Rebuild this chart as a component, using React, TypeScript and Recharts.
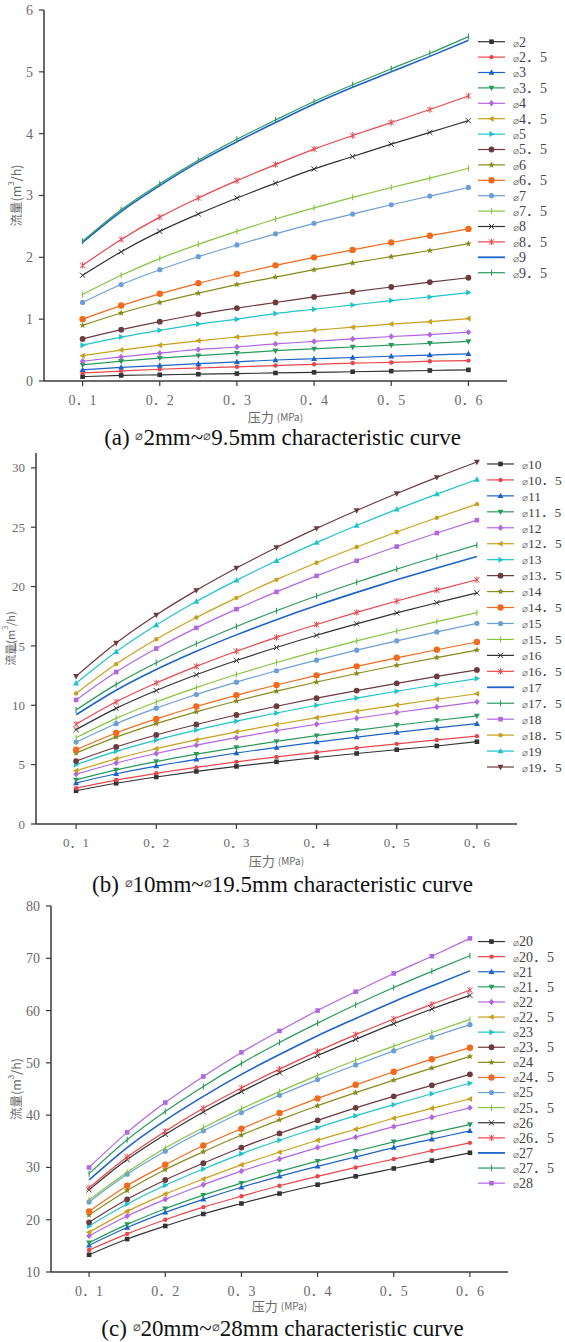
import { LineChart, Line, XAxis, YAxis, Legend, Label } from "recharts";

// pressure (MPa) at each measured point
const PRESSURE = [0.1, 0.15, 0.2, 0.25, 0.3, 0.35, 0.4, 0.45, 0.5, 0.55, 0.6];
const X_MAJOR = [0.1, 0.2, 0.3, 0.4, 0.5, 0.6];
const X_MINOR = [0.15, 0.25, 0.35, 0.45, 0.55, 0.65];

/* ---- (a) 2 ~ 9.5 mm ---- */
const SIZES_A = ["2", "2.5", "3", "3.5", "4", "4.5", "5", "5.5", "6", "6.5", "7", "7.5", "8", "8.5", "9", "9.5"];
const FLOW_A = [
  [0.07, 0.09, 0.10, 0.11, 0.12, 0.13, 0.14, 0.15, 0.16, 0.17, 0.18],
  [0.13, 0.16, 0.19, 0.21, 0.23, 0.25, 0.27, 0.29, 0.30, 0.32, 0.33],
  [0.18, 0.22, 0.25, 0.28, 0.31, 0.34, 0.36, 0.38, 0.40, 0.42, 0.44],
  [0.26, 0.32, 0.37, 0.41, 0.45, 0.49, 0.52, 0.55, 0.58, 0.61, 0.64],
  [0.32, 0.39, 0.45, 0.51, 0.55, 0.60, 0.64, 0.68, 0.72, 0.75, 0.79],
  [0.41, 0.50, 0.58, 0.65, 0.71, 0.77, 0.82, 0.87, 0.92, 0.96, 1.01],
  [0.58, 0.71, 0.82, 0.92, 1.00, 1.09, 1.16, 1.23, 1.30, 1.36, 1.43],
  [0.68, 0.83, 0.96, 1.08, 1.18, 1.27, 1.36, 1.44, 1.52, 1.60, 1.67],
  [0.90, 1.10, 1.27, 1.42, 1.56, 1.68, 1.80, 1.91, 2.01, 2.11, 2.22],
  [1.00, 1.22, 1.41, 1.58, 1.73, 1.87, 2.00, 2.12, 2.24, 2.35, 2.46],
  [1.27, 1.56, 1.80, 2.01, 2.20, 2.38, 2.55, 2.70, 2.85, 2.99, 3.13],
  [1.40, 1.71, 1.98, 2.21, 2.42, 2.62, 2.80, 2.97, 3.13, 3.28, 3.44],
  [1.71, 2.09, 2.42, 2.70, 2.96, 3.20, 3.43, 3.63, 3.83, 4.02, 4.21],
  [1.87, 2.29, 2.65, 2.96, 3.24, 3.50, 3.75, 3.97, 4.18, 4.39, 4.61],
  [2.24, 2.74, 3.16, 3.54, 3.87, 4.18, 4.48, 4.75, 5.00, 5.25, 5.51],
  [2.26, 2.77, 3.19, 3.57, 3.91, 4.22, 4.52, 4.79, 5.05, 5.30, 5.57],
];
const Y_TICKS_A = [0, 1, 2, 3, 4, 5, 6];
const Y_MINOR_A = [0.5, 1.5, 2.5, 3.5, 4.5, 5.5];

/* ---- (b) 10 ~ 19.5 mm ---- */
const SIZES_B = ["10", "10.5", "11", "11.5", "12", "12.5", "13", "13.5", "14", "14.5", "15", "15.5", "16", "16.5", "17", "17.5", "18", "18.5", "19", "19.5"];
const FLOW_B = [
  [2.80, 3.43, 3.96, 4.43, 4.85, 5.24, 5.60, 5.94, 6.26, 6.57, 6.93],
  [3.02, 3.70, 4.27, 4.77, 5.23, 5.65, 6.04, 6.41, 6.75, 7.08, 7.40],
  [3.45, 4.23, 4.88, 5.45, 5.98, 6.45, 6.90, 7.32, 7.71, 8.09, 8.45],
  [3.72, 4.56, 5.26, 5.88, 6.44, 6.96, 7.44, 7.89, 8.32, 8.72, 9.11],
  [4.20, 5.14, 5.94, 6.64, 7.27, 7.86, 8.40, 8.91, 9.39, 9.85, 10.29],
  [4.48, 5.49, 6.34, 7.08, 7.76, 8.38, 8.96, 9.50, 10.02, 10.51, 10.97],
  [5.00, 6.12, 7.07, 7.91, 8.66, 9.35, 10.00, 10.61, 11.18, 11.73, 12.25],
  [5.30, 6.49, 7.50, 8.38, 9.18, 9.92, 10.60, 11.24, 11.85, 12.43, 12.98],
  [5.98, 7.32, 8.46, 9.45, 10.36, 11.19, 11.96, 12.68, 13.37, 14.02, 14.65],
  [6.26, 7.67, 8.85, 9.90, 10.84, 11.71, 12.52, 13.28, 14.00, 14.68, 15.33],
  [6.90, 8.45, 9.76, 10.91, 11.95, 12.91, 13.80, 14.64, 15.43, 16.18, 16.90],
  [7.27, 8.90, 10.28, 11.49, 12.59, 13.60, 14.54, 15.42, 16.26, 17.05, 17.80],
  [7.95, 9.74, 11.24, 12.57, 13.77, 14.87, 15.90, 16.86, 17.78, 18.64, 19.47],
  [8.40, 10.29, 11.88, 13.28, 14.55, 15.72, 16.80, 17.82, 18.78, 19.70, 20.57],
  [9.20, 11.27, 13.01, 14.55, 15.93, 17.21, 18.40, 19.51, 20.57, 21.57, 22.53],
  [9.60, 11.76, 13.58, 15.18, 16.63, 17.96, 19.20, 20.36, 21.47, 22.51, 23.51],
  [10.45, 12.80, 14.78, 16.52, 18.10, 19.55, 20.90, 22.17, 23.37, 24.51, 25.59],
  [11.00, 13.47, 15.56, 17.39, 19.05, 20.58, 22.00, 23.33, 24.60, 25.80, 26.94],
  [11.85, 14.51, 16.76, 18.74, 20.52, 22.17, 23.70, 25.14, 26.50, 27.79, 29.02],
  [12.45, 15.25, 17.61, 19.68, 21.56, 23.29, 24.90, 26.41, 27.84, 29.20, 30.49],
];
const Y_TICKS_B = [0, 5, 10, 15, 20, 25, 30];
const Y_MINOR_B = [2.5, 7.5, 12.5, 17.5, 22.5, 27.5];

/* ---- (c) 20 ~ 28 mm ---- */
const SIZES_C = ["20", "20.5", "21", "21.5", "22", "22.5", "23", "23.5", "24", "24.5", "25", "25.5", "26", "26.5", "27", "27.5", "28"];
const FLOW_C = [
  [13.3, 16.3, 18.8, 21.1, 23.1, 25.0, 26.7, 28.3, 29.8, 31.3, 32.8],
  [14.2, 17.3, 20.0, 22.4, 24.5, 26.5, 28.3, 30.0, 31.6, 33.2, 34.7],
  [15.1, 18.5, 21.4, 23.9, 26.2, 28.3, 30.2, 32.0, 33.8, 35.4, 37.0],
  [15.6, 19.1, 22.1, 24.7, 27.0, 29.2, 31.2, 33.1, 34.9, 36.6, 38.2],
  [16.9, 20.7, 23.9, 26.7, 29.3, 31.6, 33.8, 35.8, 37.8, 39.6, 41.4],
  [17.6, 21.6, 24.9, 27.8, 30.5, 32.9, 35.2, 37.3, 39.4, 41.3, 43.1],
  [18.8, 23.0, 26.6, 29.7, 32.6, 35.2, 37.6, 39.9, 42.0, 44.1, 46.1],
  [19.5, 23.9, 27.6, 30.8, 33.8, 36.5, 39.0, 41.4, 43.6, 45.7, 47.8],
  [20.9, 25.6, 29.6, 33.0, 36.2, 39.1, 41.8, 44.3, 46.7, 49.0, 51.2],
  [21.6, 26.5, 30.5, 34.2, 37.4, 40.4, 43.2, 45.8, 48.3, 50.7, 52.9],
  [23.4, 28.7, 33.1, 37.0, 40.5, 43.8, 46.8, 49.6, 52.3, 54.9, 57.3],
  [23.8, 29.1, 33.7, 37.6, 41.2, 44.5, 47.6, 50.5, 53.2, 55.8, 58.3],
  [25.7, 31.5, 36.3, 40.6, 44.5, 48.1, 51.4, 54.5, 57.5, 60.3, 62.9],
  [26.1, 32.0, 36.9, 41.3, 45.2, 48.8, 52.2, 55.4, 58.4, 61.2, 63.9],
  [27.6, 33.8, 39.0, 43.6, 47.8, 51.6, 55.2, 58.5, 61.7, 64.7, 67.6],
  [28.8, 35.3, 40.7, 45.5, 49.9, 53.9, 57.6, 61.1, 64.4, 67.5, 70.5],
  [30.0, 36.7, 42.4, 47.4, 52.0, 56.1, 60.0, 63.6, 67.1, 70.4, 73.8],
];
const Y_TICKS_C = [10, 20, 30, 40, 50, 60, 70, 80];
const Y_MINOR_C = [15, 25, 35, 45, 55, 65, 75];

/* Origin-style palette: colours repeat every 12, symbols every 16 */
const PALETTE = [
  "#333333", "#e8474c", "#1d63c9", "#2a9a5c", "#b266e0", "#c9a01c",
  "#1fc3cc", "#6d3a3d", "#8a8a1c", "#f26a1b", "#6b9fd8", "#86c440",
];
const SHAPES = [
  "square", "circle", "triUp", "triDown", "diamond", "triLeft", "triRight", "hex",
  "star", "bigCircle", "ring", "bar", "cross", "asterisk", "none", "bar",
];

const AXIS = "#3a3a3a";
const TICK_TXT = "#6a6a6a";
const SERIF = "'Liberation Serif', 'Noto Sans CJK SC', serif";
const CJK = "'Noto Sans CJK SC', sans-serif";

const colorOf = (i: number) => PALETTE[i % PALETTE.length];
const shapeOf = (i: number) => SHAPES[i % SHAPES.length];
const wide = (s: string) => s.replace(".", "．");

function marker(shape: string, x: number, y: number, color: string, key?: string) {
  switch (shape) {
    case "square":
      return <rect key={key} x={x - 2.3} y={y - 2.3} width={4.6} height={4.6} fill={color} />;
    case "circle":
      return <circle key={key} cx={x} cy={y} r={2.2} fill={color} />;
    case "bigCircle":
      return <circle key={key} cx={x} cy={y} r={3.2} fill={color} />;
    case "ring":
      return <circle key={key} cx={x} cy={y} r={2.6} fill={color} />;
    case "hex":
      return <circle key={key} cx={x} cy={y} r={2.9} fill={color} />;
    case "triUp":
      return <polygon key={key} points={`${x},${y - 3.2} ${x + 3},${y + 2.2} ${x - 3},${y + 2.2}`} fill={color} />;
    case "triDown":
      return <polygon key={key} points={`${x},${y + 3.2} ${x + 3},${y - 2.2} ${x - 3},${y - 2.2}`} fill={color} />;
    case "triLeft":
      return <polygon key={key} points={`${x - 3.2},${y} ${x + 2.2},${y - 3} ${x + 2.2},${y + 3}`} fill={color} />;
    case "triRight":
      return <polygon key={key} points={`${x + 3.2},${y} ${x - 2.2},${y - 3} ${x - 2.2},${y + 3}`} fill={color} />;
    case "diamond":
      return <polygon key={key} points={`${x},${y - 3.2} ${x + 2.8},${y} ${x},${y + 3.2} ${x - 2.8},${y}`} fill={color} />;
    case "star": {
      const pts: string[] = [];
      for (let k = 0; k < 10; k++) {
        const r = k % 2 === 0 ? 3.4 : 1.5;
        const a = -Math.PI / 2 + (k * Math.PI) / 5;
        pts.push(`${x + r * Math.cos(a)},${y + r * Math.sin(a)}`);
      }
      return <polygon key={key} points={pts.join(" ")} fill={color} />;
    }
    case "bar":
      return <line key={key} x1={x} x2={x} y1={y - 3} y2={y + 3} stroke={color} strokeWidth={1.1} />;
    case "cross":
      return (
        <g key={key} stroke={color} strokeWidth={1}>
          <line x1={x - 2.6} y1={y - 2.6} x2={x + 2.6} y2={y + 2.6} />
          <line x1={x - 2.6} y1={y + 2.6} x2={x + 2.6} y2={y - 2.6} />
        </g>
      );
    case "asterisk":
      return (
        <g key={key} stroke={color} strokeWidth={1}>
          <line x1={x - 2.6} y1={y - 2.6} x2={x + 2.6} y2={y + 2.6} />
          <line x1={x - 2.6} y1={y + 2.6} x2={x + 2.6} y2={y - 2.6} />
          <line x1={x} y1={y - 3.2} x2={x} y2={y + 3.2} />
        </g>
      );
    default:
      return <g key={key} />;
  }
}

type PanelProps = {
  top: number;
  height: number;
  margin: { top: number; right: number; left: number; bottom: number };
  yWidth: number;
  yDomain: [number, number];
  yTicks: number[];
  yMinor: number[];
  sizes: string[];
  flow: number[][];
  tickFont: number;
  yTitleX: number;
  yTitleFont: number;
  xTitleDy: number;
  legend: { left: number; top: number; step: number; font: number };
};

function Panel(p: PanelProps) {
  const data = PRESSURE.map((x, j) => {
    const row: Record<string, number> = { p: x };
    p.flow.forEach((s, i) => (row[`s${i}`] = s[j]));
    return row;
  });
  const step = p.legend.step;

  const renderLegend = () => (
    <svg width={90} height={p.sizes.length * step} style={{ display: "block" }}>
      {p.sizes.map((s, i) => {
        const cy = step * i + step / 2;
        const c = colorOf(i);
        return (
          <g key={s}>
            <line x1={0} x2={27} y1={cy} y2={cy} stroke={c} strokeWidth={shapeOf(i) === "none" ? 1.8 : 1.2} />
            {marker(shapeOf(i), 13.5, cy, c)}
            <text x={35} y={cy} dy="0.35em" fontSize={p.legend.font} fill="#444" fontFamily={SERIF}>
              <tspan fontSize={p.legend.font * 0.72} fill="#777">⌀</tspan>
              {wide(s)}
            </text>
          </g>
        );
      })}
    </svg>
  );

  const tickStyle = { fill: TICK_TXT, fontSize: p.tickFont, fontFamily: SERIF };

  return (
    <div style={{ position: "absolute", left: 0, top: p.top }}>
      <LineChart width={565} height={p.height} data={data} margin={p.margin}>
        <XAxis
          xAxisId="minor"
          dataKey="p"
          type="number"
          domain={[0.05, 0.65]}
          ticks={X_MINOR}
          interval={0}
          tickSize={3}
          tickFormatter={() => ""}
          axisLine={false}
          tickLine={{ stroke: AXIS, strokeWidth: 1.2 }}
          height={0}
        />
        <YAxis
          yAxisId="minor"
          type="number"
          domain={p.yDomain}
          ticks={p.yMinor}
          interval={0}
          tickSize={3}
          tickFormatter={() => ""}
          axisLine={false}
          tickLine={{ stroke: AXIS, strokeWidth: 1.2 }}
          width={0}
        />
        <XAxis
          dataKey="p"
          type="number"
          domain={[0.05, 0.65]}
          ticks={X_MAJOR}
          interval={0}
          tickSize={5}
          tickMargin={9}
          tickFormatter={(v: number) => wide(v.toFixed(1))}
          tick={tickStyle}
          axisLine={{ stroke: AXIS, strokeWidth: 1.5 }}
          tickLine={{ stroke: AXIS, strokeWidth: 1.2 }}
          height={30}
        >
          <Label
            content={(props: any) => {
              const vb = props.viewBox || {};
              const cx = vb.x + vb.width / 2;
              return (
                <text x={cx} y={vb.y + p.xTitleDy} textAnchor="middle" dominantBaseline="central" fill={TICK_TXT} fontFamily={CJK}>
                  <tspan fontSize={13}>压力 </tspan>
                  <tspan fontSize={10}>(MPa)</tspan>
                </text>
              );
            }}
          />
        </XAxis>
        <YAxis
          type="number"
          domain={p.yDomain}
          ticks={p.yTicks}
          interval={0}
          tickSize={5}
          tickMargin={6}
          tick={tickStyle}
          axisLine={{ stroke: AXIS, strokeWidth: 1.5 }}
          tickLine={{ stroke: AXIS, strokeWidth: 1.2 }}
          width={p.yWidth}
        >
          <Label
            content={(props: any) => {
              const vb = props.viewBox || {};
              const cy = vb.y + vb.height / 2;
              const cx = p.yTitleX;
              return (
                <text
                  x={cx}
                  y={cy}
                  transform={`rotate(-90 ${cx} ${cy})`}
                  textAnchor="middle"
                  dominantBaseline="central"
                  fill={TICK_TXT}
                  fontSize={p.yTitleFont}
                  fontFamily={CJK}
                >
                  流量(m<tspan fontSize={p.yTitleFont * 0.64} dy={-5}>3</tspan>
                  <tspan dy={5}>/h)</tspan>
                </text>
              );
            }}
          />
        </YAxis>
        <Legend
          layout="vertical"
          align="center"
          verticalAlign="middle"
          content={renderLegend}
          wrapperStyle={{ left: p.legend.left, top: p.legend.top, width: 90 }}
        />
        {p.sizes.map((s, i) => {
          const c = colorOf(i);
          const shape = shapeOf(i);
          return (
            <Line
              key={s}
              dataKey={`s${i}`}
              name={`⌀${wide(s)}`}
              type="monotone"
              stroke={c}
              strokeWidth={shape === "none" ? 1.6 : 1.2}
              dot={
                shape === "none"
                  ? false
                  : (d: any) => marker(shape, d.cx, d.cy, c, `m-${i}-${d.index}`)
              }
              activeDot={false}
              isAnimationActive={false}
            />
          );
        })}
      </LineChart>
    </div>
  );
}

const captionStyle = (center: number): React.CSSProperties => ({
  position: "absolute",
  left: 0,
  width: 565,
  top: center - 13,
  lineHeight: "26px",
  textAlign: "center",
  fontFamily: "'Liberation Serif', serif",
  fontSize: 23,
  color: "#111",
});

const dia: React.CSSProperties = { fontSize: 13, verticalAlign: 5, color: "#555" };

export default function App() {
  return (
    <div style={{ position: "absolute", left: 0, top: 0, width: 565, height: 1342, background: "#fff", overflow: "hidden" }}>
      <Panel
        top={0}
        height={440}
        margin={{ top: 10, right: 58, left: 0, bottom: 29 }}
        yWidth={44}
        yDomain={[0, 6]}
        yTicks={Y_TICKS_A}
        yMinor={Y_MINOR_A}
        sizes={SIZES_A}
        flow={FLOW_A}
        tickFont={14}
        yTitleX={15}
        yTitleFont={12.5}
        xTitleDy={35}
        legend={{ left: 478, top: 34.3, step: 15.4, font: 14 }}
      />
      <Panel
        top={440}
        height={440}
        margin={{ top: 13, right: 48, left: 0, bottom: 26 }}
        yWidth={36}
        yDomain={[0, 31.25]}
        yTicks={Y_TICKS_B}
        yMinor={Y_MINOR_B}
        sizes={SIZES_B}
        flow={FLOW_B}
        tickFont={13}
        yTitleX={10}
        yTitleFont={11}
        xTitleDy={36}
        legend={{ left: 487, top: 16, step: 15.95, font: 13.5 }}
      />
      <Panel
        top={890}
        height={440}
        margin={{ top: 16, right: 57, left: 0, bottom: 28 }}
        yWidth={51}
        yDomain={[10, 80]}
        yTicks={Y_TICKS_C}
        yMinor={Y_MINOR_C}
        sizes={SIZES_C}
        flow={FLOW_C}
        tickFont={14}
        yTitleX={15}
        yTitleFont={12.5}
        xTitleDy={33}
        legend={{ left: 478, top: 43.5, step: 15.1, font: 14 }}
      />
      <div style={captionStyle(436)}>
        (a) <span style={dia}>⌀</span>2mm~<span style={dia}>⌀</span>9.5mm characteristic curve
      </div>
      <div style={captionStyle(883)}>
        (b) <span style={dia}>⌀</span>10mm~<span style={dia}>⌀</span>19.5mm characteristic curve
      </div>
      <div style={captionStyle(1327)}>
        (c) <span style={dia}>⌀</span>20mm~<span style={dia}>⌀</span>28mm characteristic curve
      </div>
    </div>
  );
}
